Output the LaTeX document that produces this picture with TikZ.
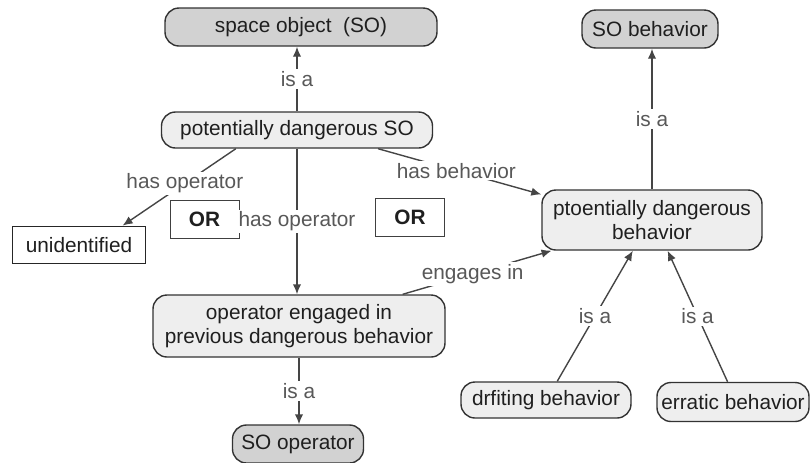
\documentclass[tikz,border=0pt]{standalone}
\usepackage{fontspec}
\setmainfont{Liberation Sans}
\usetikzlibrary{arrows.meta, positioning, calc}

\definecolor{darkfill}{HTML}{D2D2D2}
\definecolor{lightfill}{HTML}{EEEEEE}
\definecolor{edgecol}{HTML}{454545}
\definecolor{lblcol}{HTML}{585858}

\begin{document}
\begin{tikzpicture}[
    x=0.5pt, y=-0.5pt,
    >={Latex[length=5pt, width=4.2pt]},
    every node/.style={font=\fontsize{10.4}{12}\selectfont, text=black!88},
    concept/.style={draw=black!80, line width=0.7pt, rounded corners=7pt, fill=lightfill, align=center, inner sep=0pt},
    topconcept/.style={concept, fill=darkfill},
    orbox/.style={draw=black!75, line width=0.5pt, fill=white, font=\fontsize{10.4}{12}\selectfont\bfseries, inner sep=0pt, minimum width=34.5pt, minimum height=19pt},
    link/.style={draw=edgecol, line width=0.7pt},
    arr/.style={link, ->},
    lbl/.style={fill=white, text=lblcol, inner sep=1pt},
]
\useasboundingbox (0,0) rectangle (811,462);
% ============================================================
% concepts
% ============================================================
\node[topconcept, minimum width=136pt, minimum height=19pt] (so) at (301,27) {space object\ \ (SO)};
\node[concept, minimum width=135.5pt, minimum height=18pt] (pdso) at (297,130) {potentially dangerous SO};
\node[topconcept, minimum width=68pt, minimum height=19pt] (sob) at (650,29) {SO behavior};
\node[concept, minimum width=110pt, minimum height=30pt] (pdb) at (652,220) {ptoentially dangerous\\behavior};
\node[draw=black!85, line width=0.9pt, fill=white, inner sep=0pt, minimum width=66.5pt, minimum height=18.5pt] (unid) at (79,245) {unidentified};
\node[orbox] (or1) at (204.5,219) {OR};
\node[orbox] (or2) at (410,217) {OR};
\node[concept, minimum width=146pt, minimum height=31pt] (oeb) at (299,326) {operator engaged in\\previous dangerous behavior};
\node[topconcept, minimum width=65.5pt, minimum height=19pt] (soop) at (298,444) {SO operator};
\node[concept, minimum width=85pt, minimum height=18pt] (drift) at (546,400) {drfiting behavior};
\node[concept, minimum width=76pt, minimum height=19.5pt] (errat) at (733,402) {erratic behavior};
% ============================================================
% links
% ============================================================
\draw[arr] (pdso.north) -- node[lbl] {is a} (pdso.north |- so.south);
\draw[arr] (pdso.197) -- node[lbl, pos=0.45] {has operator} (unid.24);
\draw[arr] (pdso.south) -- node[lbl] {has operator} (pdso.south |- oeb.north);
\draw[arr] (pdso.-13) -- node[lbl, pos=0.48] {has behavior} (pdb.167);
\draw[arr] (oeb.17) -- node[lbl, pos=0.47] {engages in} (pdb.197);
\draw[arr] (pdb.north) -- node[lbl] {is a} (pdb.north |- sob.south);
\draw[arr] (drift.59) -- node[lbl] {is a} (pdb.238);
\draw[arr] (errat.105) -- node[lbl] {is a} (pdb.-63);
\draw[arr] (oeb.south) -- node[lbl] {is a} (oeb.south |- soop.north);
\end{tikzpicture}
\end{document}
